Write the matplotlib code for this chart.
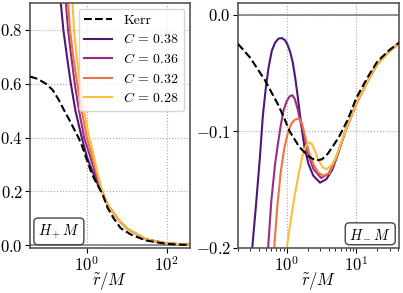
import numpy as np
import matplotlib
matplotlib.use('Agg')
import matplotlib.pyplot as plt
from matplotlib.ticker import FixedLocator, LogLocator, NullLocator, NullFormatter

plt.rcParams['font.family'] = 'serif'
plt.rcParams['font.serif'] = ['cmr10']
plt.rcParams['mathtext.fontset'] = 'cm'
plt.rcParams['axes.formatter.use_mathtext'] = True
plt.rcParams['font.size'] = 12

# values
labels = [r'$C\,=\,0.38$', r'$C\,=\,0.36$', r'$C\,=\,0.32$', r'$C\,=\,0.28$']
colors = ['#4d1778', '#9b2b7e', '#ef7243', '#fcbe3c']

# left panel: H_+ M
kerr_p_r = [0.038, 0.06, 0.1, 0.14, 0.2, 0.27, 0.36, 0.48, 0.62, 0.78, 1.0, 1.26, 1.5, 2.0, 2.47,
            3.3, 4.7, 7, 12.6, 30, 100, 380]
kerr_p_y = [0.627, 0.618, 0.598, 0.577, 0.54, 0.502, 0.468, 0.432, 0.40, 0.365, 0.318, 0.277, 0.25,
            0.215, 0.19, 0.14, 0.1, 0.064, 0.04, 0.018, 0.005, 0.001]

tail_p_r = [2.47, 3.3, 5.8, 10, 30, 100, 380]
tail_p_y = [0.196, 0.15, 0.10, 0.062, 0.022, 0.007, 0.002]

hp_r = [
    [0.2, 0.224, 0.26, 0.32, 0.40, 0.52, 0.75, 1.0, 1.26, 1.9],
    [0.27, 0.30, 0.34, 0.41, 0.50, 0.64, 0.86, 1.1, 1.4, 1.9],
    [0.31, 0.34, 0.38, 0.46, 0.58, 0.75, 1.0, 1.26, 1.6, 2.0],
    [0.40, 0.44, 0.48, 0.56, 0.68, 0.86, 1.14, 1.3, 1.6, 2.0],
]
hp_y = [
    [0.95, 0.9, 0.8, 0.7, 0.6, 0.5, 0.4, 0.33, 0.29, 0.225],
    [0.95, 0.9, 0.8, 0.7, 0.6, 0.5, 0.4, 0.35, 0.30, 0.235],
    [0.95, 0.9, 0.8, 0.7, 0.6, 0.5, 0.4, 0.35, 0.29, 0.24],
    [0.95, 0.9, 0.8, 0.7, 0.6, 0.5, 0.4, 0.375, 0.31, 0.25],
]

# right panel: H_- M
kerr_m_r = [0.2, 0.3, 0.485, 0.75, 0.94, 1.1, 1.5, 2.0, 2.6, 3.2, 3.9, 4.8, 5.7, 7.5, 10, 15, 20, 30, 41]
kerr_m_y = [-0.025, -0.037, -0.056, -0.077, -0.090, -0.100, -0.113, -0.121, -0.125, -0.124,
            -0.119, -0.111, -0.104, -0.090, -0.071, -0.052, -0.040, -0.030, -0.024]

tail_m_r = [7, 10, 15, 20, 30, 41]
tail_m_y = [-0.099, -0.076, -0.055, -0.042, -0.031, -0.024]

hm_r = [
    [0.32, 0.36, 0.41, 0.454, 0.50, 0.55, 0.61, 0.68, 0.76, 0.85, 0.95, 1.03, 1.12, 1.22, 1.33,
     1.45, 1.6, 1.8, 2.05, 2.4, 3.0, 3.7, 4.5, 5.5],
    [0.54, 0.6, 0.68, 0.75, 0.82, 0.9, 1.0, 1.1, 1.2, 1.3, 1.42, 1.55, 1.75, 2.0, 2.4, 3.1, 4.0,
     5.0],
    [0.66, 0.73, 0.82, 0.92, 1.03, 1.15, 1.3, 1.5, 1.65, 1.83, 2.05, 2.4, 2.8, 3.3, 4.1, 5.0],
    [1.0, 1.15, 1.3, 1.5, 1.7, 1.9, 2.1, 2.3, 2.55, 2.8, 3.3, 3.75, 4.5, 5.0, 5.7],
]
hm_y = [
    [-0.2, -0.165, -0.124, -0.087, -0.063, -0.045, -0.031, -0.024, -0.0205, -0.020, -0.022,
     -0.026, -0.032, -0.041, -0.055, -0.072, -0.093, -0.114, -0.128, -0.138, -0.144, -0.141,
     -0.133, -0.118],
    [-0.2, -0.16, -0.128, -0.11, -0.095, -0.082, -0.074, -0.070, -0.069, -0.072, -0.080, -0.090,
     -0.102, -0.118, -0.132, -0.140, -0.136, -0.125],
    [-0.2, -0.165, -0.135, -0.115, -0.102, -0.094, -0.090, -0.089, -0.093, -0.104, -0.117,
     -0.128, -0.135, -0.138, -0.136, -0.124],
    [-0.2, -0.175, -0.155, -0.135, -0.12, -0.112, -0.1095, -0.111, -0.117, -0.124, -0.131,
     -0.1325, -0.128, -0.123, -0.114],
]

fig = plt.figure(figsize=(4.03, 2.93), dpi=100)
ax1 = fig.add_axes([0.0744, 0.1536, 0.397, 0.836])
ax2 = fig.add_axes([0.5906, 0.1536, 0.400, 0.836])

ax1.plot(kerr_p_r, kerr_p_y, 'k--', lw=1.5, label='Kerr', zorder=5)
for i in range(4):
    r = hp_r[i] + tail_p_r
    y = hp_y[i] + tail_p_y
    ax1.plot(r, y, color=colors[i], lw=1.5, label=labels[i])

ax2.plot(kerr_m_r, kerr_m_y, 'k--', lw=1.5, zorder=5)
for i in range(4):
    r = hm_r[i] + tail_m_r
    y = hm_y[i] + tail_m_y
    ax2.plot(r, y, color=colors[i], lw=1.5)

for ax in (ax1, ax2):
    ax.set_xscale('log')
    ax.axhline(0, color='gray', lw=1.2, zorder=1)
    ax.grid(True, which='major', linestyle=':', color='gray', alpha=0.7)
    for s in ax.spines.values():
        s.set_color('#555555')
        s.set_linewidth(1.2)
    ax.tick_params(labelsize=12, pad=1.5)
    ax.set_xlabel(r'$\tilde{r}/M$', labelpad=-2.5)

ax1.set_xlim(0.038, 380)
ax1.set_ylim(-0.01, 0.9)
ax1.xaxis.set_major_locator(FixedLocator([1, 100]))
ax1.xaxis.set_minor_locator(NullLocator())
ax1.set_yticks([0.0, 0.2, 0.4, 0.6, 0.8])

ax2.set_xlim(0.2, 41)
ax2.set_ylim(-0.2, 0.01)
ax2.xaxis.set_major_locator(FixedLocator([1, 10]))
ax2.xaxis.set_minor_locator(LogLocator(base=10, subs=np.arange(2, 10)))
ax2.xaxis.set_minor_formatter(NullFormatter())
ax2.set_yticks([0.0, -0.1, -0.2])

leg = ax1.legend(loc='upper right', fancybox=True, framealpha=0.8, fontsize=10,
                 handlelength=2.0, borderpad=0.4, labelspacing=0.4, borderaxespad=0.4)

box = dict(boxstyle='round,pad=0.28', facecolor='white', edgecolor='#444444')
ax1.text(0.05, 0.03, '$H_+M$', transform=ax1.transAxes, ha='left', va='bottom', bbox=box,
         fontsize=10.5)
ax2.text(0.95, 0.03, '$H_-M$', transform=ax2.transAxes, ha='right', va='bottom', bbox=box,
         fontsize=10.5)

fig.savefig('out.png', dpi=100)
